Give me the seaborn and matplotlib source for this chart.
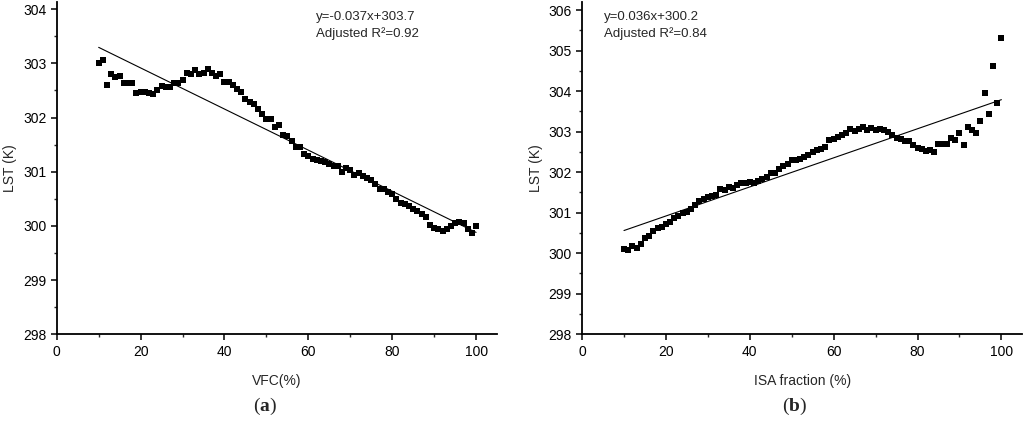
import numpy as np
import pandas as pd
import matplotlib
matplotlib.use("Agg")
import matplotlib.pyplot as plt
from matplotlib.ticker import MultipleLocator
import seaborn as sns

# x positions (%) shared by both panels
pct = list(range(10, 101))

# (a) LST vs VFC
lstVfc = [303.00, 303.06, 302.60, 302.80, 302.74, 302.77, 302.64, 302.64, 302.64, 302.45,
          302.48, 302.47, 302.45, 302.43, 302.50, 302.59, 302.56, 302.56, 302.63, 302.64,
          302.69, 302.82, 302.81, 302.88, 302.81, 302.82, 302.90, 302.83, 302.77, 302.80,
          302.66, 302.65, 302.60, 302.52, 302.48, 302.34, 302.29, 302.25, 302.16, 302.06,
          301.97, 301.97, 301.83, 301.86, 301.68, 301.66, 301.57, 301.46, 301.46, 301.32,
          301.29, 301.23, 301.22, 301.20, 301.17, 301.14, 301.11, 301.11, 301.00, 301.06,
          301.03, 300.94, 300.97, 300.92, 300.89, 300.85, 300.78, 300.68, 300.68, 300.63,
          300.59, 300.50, 300.42, 300.40, 300.36, 300.31, 300.27, 300.21, 300.17, 300.02,
          299.96, 299.94, 299.91, 299.94, 299.99, 300.05, 300.08, 300.05, 299.94, 299.87,
          299.99]

# (b) LST vs ISA fraction
lstIsa = [300.10, 300.08, 300.18, 300.14, 300.22, 300.38, 300.43, 300.55, 300.62, 300.64,
          300.72, 300.76, 300.87, 300.92, 300.99, 301.03, 301.09, 301.19, 301.28, 301.33,
          301.38, 301.42, 301.44, 301.58, 301.56, 301.63, 301.61, 301.69, 301.73, 301.74,
          301.77, 301.74, 301.79, 301.83, 301.88, 301.99, 301.99, 302.08, 302.16, 302.21,
          302.29, 302.31, 302.33, 302.38, 302.42, 302.50, 302.55, 302.58, 302.63, 302.80,
          302.83, 302.86, 302.92, 302.97, 303.06, 303.02, 303.06, 303.11, 303.05, 303.08,
          303.05, 303.07, 303.04, 302.99, 302.91, 302.84, 302.82, 302.78, 302.78, 302.67,
          302.59, 302.57, 302.53, 302.56, 302.50, 302.70, 302.70, 302.70, 302.84, 302.80,
          302.97, 302.66, 303.11, 303.05, 302.96, 303.27, 303.96, 303.43, 304.62, 303.71,
          305.31]

xLabels = ["VFC(%)", "ISA fraction (%)"]
eqTexts = ["y=-0.037x+303.7\nAdjusted R\u00b2=0.92", "y=0.036x+300.2\nAdjusted R\u00b2=0.84"]
panelTags = ["a", "b"]
yLims = [(298, 304.13), (298, 306.2)]

sns.set_style("ticks")
plt.rcParams['font.family'] = ['Liberation Sans', 'DejaVu Sans']
plt.rcParams['mathtext.fontset'] = 'custom'
plt.rcParams['mathtext.bf'] = 'Liberation Serif:bold'
plt.rcParams['mathtext.rm'] = 'Liberation Serif'

fig = plt.figure(figsize=(10.24, 4.22), dpi=100)
ax1 = fig.add_axes([0.0554, 0.208, 0.430, 0.787])
ax2 = fig.add_axes([0.5684, 0.208, 0.430, 0.787])

dfA = pd.DataFrame({"x": pct, "lst": lstVfc})
dfB = pd.DataFrame({"x": pct, "lst": lstIsa})

for ax, df, xl, eq, tag, yl in zip([ax1, ax2], [dfA, dfB], xLabels, eqTexts, panelTags, yLims):
    sns.regplot(data=df, x="x", y="lst", ax=ax, ci=None, color="black", marker="s",
                scatter_kws={"s": 13, "linewidths": 0, "alpha": 1},
                line_kws={"linewidth": 0.8})
    ax.set_xlim(0, 105)
    ax.set_ylim(*yl)
    ax.xaxis.set_major_locator(MultipleLocator(20))
    ax.xaxis.set_minor_locator(MultipleLocator(10))
    ax.yaxis.set_major_locator(MultipleLocator(1))
    ax.yaxis.set_minor_locator(MultipleLocator(0.5))
    ax.tick_params(which="major", direction="out", length=4, width=1.1, labelsize=10, colors="black")
    ax.tick_params(which="minor", direction="out", length=2.5, width=1.0)
    for s in ["left", "bottom"]:
        ax.spines[s].set_linewidth(1.3)
        ax.spines[s].set_color("black")
    sns.despine(ax=ax)
    ax.set_xlabel(xl, fontsize=10, labelpad=11)
    ax.set_ylabel("LST (K)", fontsize=10, labelpad=4)
    ax.text(0.05 if tag == "b" else 0.588, 0.972, eq, transform=ax.transAxes, fontsize=9.5,
            va="top", ha="left", linespacing=1.4)

fig.text(0.259, 0.026, "(" + r"$\mathbf{a}$" + ")", fontsize=14, ha="center", family="Liberation Serif")
fig.text(0.776, 0.026, "(" + r"$\mathbf{b}$" + ")", fontsize=14, ha="center", family="Liberation Serif")

fig.savefig("out.png", dpi=100)
